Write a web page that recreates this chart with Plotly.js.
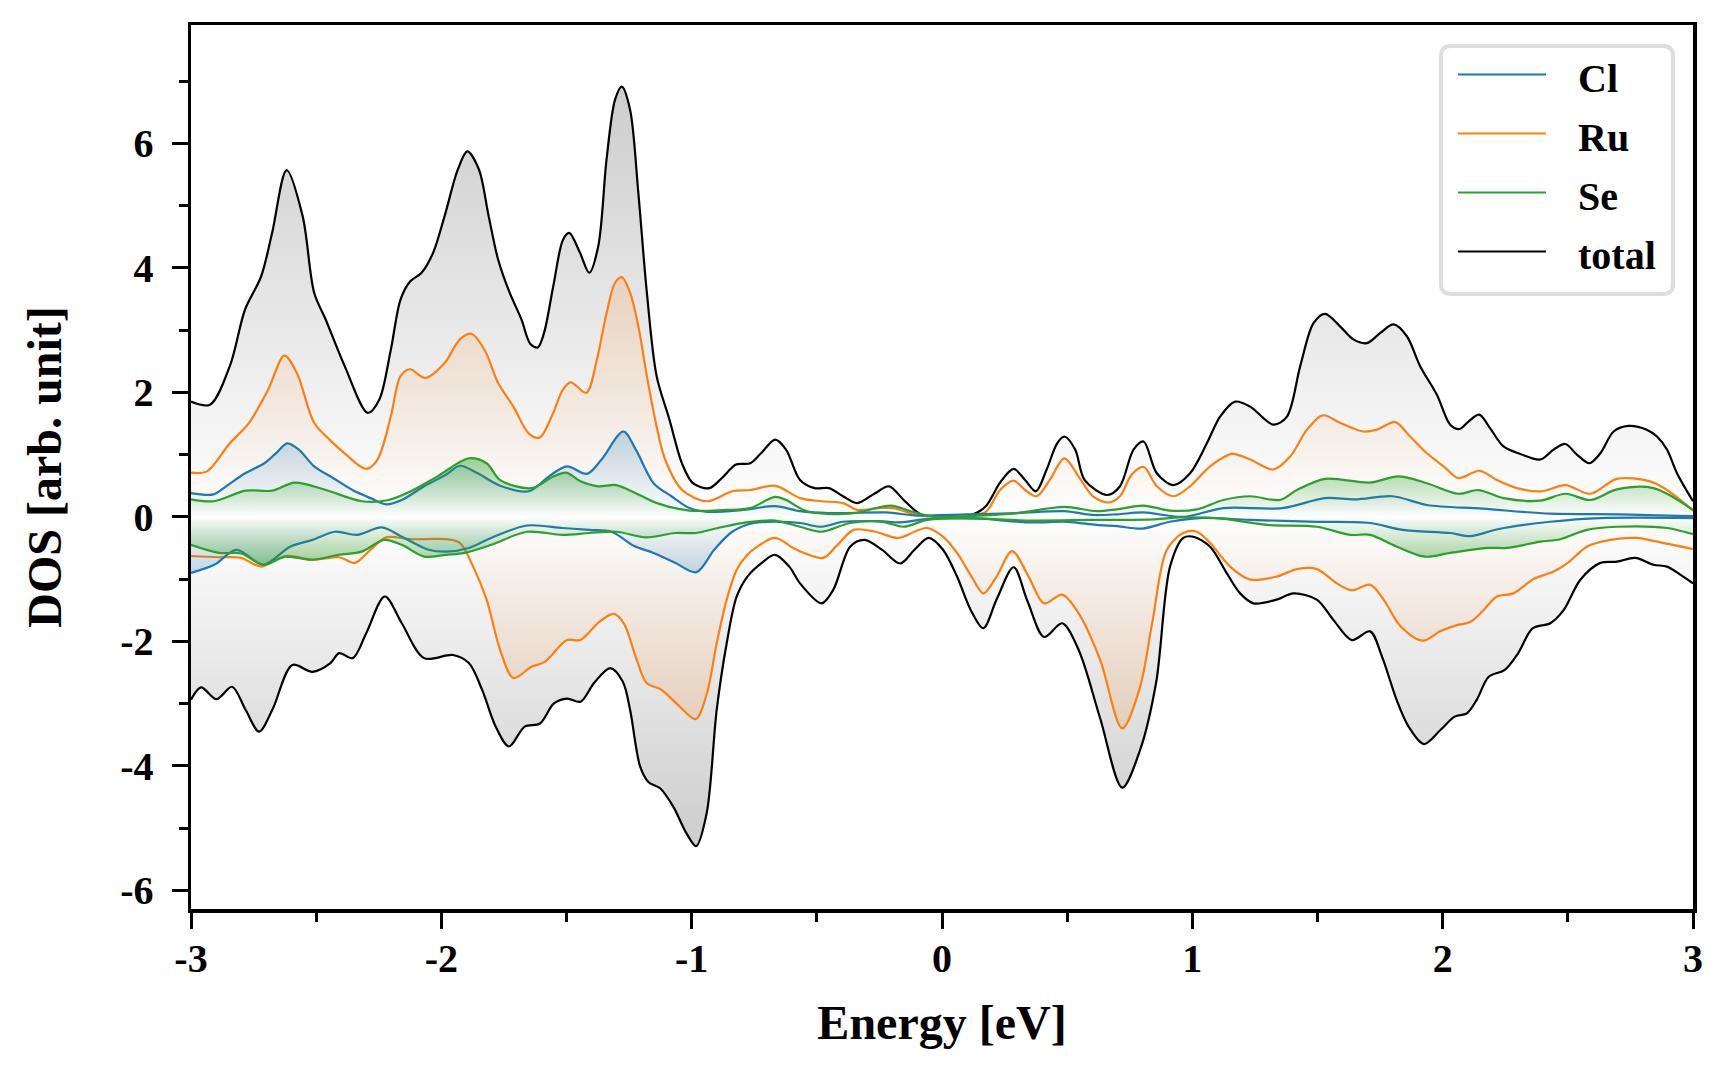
<!DOCTYPE html>
<html><head><meta charset="utf-8">
<script src="https://cdn.plot.ly/plotly-3.0.1.min.js"></script>
<style>html,body{margin:0;padding:0;background:#fff}
.legend .legendfill path{display:none}
.legend .scrollbox{clip-path:none !important}
.legend .legendtext{transform:translate(27px,0)}</style>
</head><body><div id="chart" style="width:1728px;height:1080px"></div>
<script>
// ---------- data (energy in eV, DOS in arb. unit; spin-up positive, spin-down negative) ----------
const xTotalUp = [-3.0,-2.924,-2.845,-2.784,-2.72,-2.676,-2.618,-2.554,-2.508,-2.462,-2.386,-2.294,-2.248,-2.202,-2.163,-2.125,-2.079,-2.033,-1.987,-1.934,-1.896,-1.85,-1.811,-1.773,-1.727,-1.68,-1.645,-1.615,-1.59,-1.553,-1.514,-1.489,-1.446,-1.409,-1.373,-1.34,-1.306,-1.279,-1.246,-1.213,-1.179,-1.14,-1.09,-1.038,-0.995,-0.93,-0.88,-0.823,-0.766,-0.723,-0.666,-0.623,-0.567,-0.509,-0.452,-0.395,-0.339,-0.267,-0.211,-0.153,-0.081,0.0,0.06,0.118,0.175,0.232,0.286,0.332,0.375,0.418,0.46,0.489,0.532,0.57,0.66,0.711,0.765,0.805,0.858,0.925,0.991,1.058,1.111,1.171,1.231,1.324,1.378,1.431,1.484,1.53,1.59,1.643,1.697,1.75,1.804,1.857,1.91,1.977,2.03,2.067,2.103,2.146,2.19,2.243,2.31,2.39,2.443,2.49,2.536,2.586,2.63,2.683,2.742,2.815,2.856,2.896,2.936,3.0];
const dosTotalUp = [1.85,1.80,2.42,3.33,3.86,4.56,5.57,4.83,3.60,3.17,2.42,1.67,1.88,2.68,3.49,3.78,3.92,4.24,4.83,5.58,5.87,5.58,4.83,4.13,3.60,3.17,2.78,2.72,2.95,3.70,4.45,4.56,4.24,3.92,4.35,5.74,6.70,6.91,6.54,5.20,3.60,2.26,1.58,0.85,0.54,0.46,0.62,0.84,0.86,1.02,1.24,1.08,0.59,0.46,0.46,0.33,0.22,0.38,0.49,0.27,0.03,0.02,0.02,0.03,0.17,0.55,0.77,0.59,0.41,0.76,1.18,1.29,1.08,0.59,0.35,0.49,1.08,1.21,0.70,0.51,0.70,1.18,1.61,1.85,1.77,1.48,1.61,2.42,3.11,3.26,3.06,2.85,2.79,2.95,3.09,2.90,2.42,1.96,1.48,1.41,1.53,1.64,1.42,1.13,1.01,0.92,1.08,1.17,1.0,0.86,1.02,1.37,1.46,1.40,1.29,1.08,0.70,0.25];

const xTotalDown = [-3.0,-2.96,-2.898,-2.836,-2.782,-2.728,-2.675,-2.595,-2.515,-2.443,-2.408,-2.354,-2.3,-2.226,-2.158,-2.069,-1.953,-1.89,-1.837,-1.783,-1.73,-1.667,-1.606,-1.551,-1.498,-1.444,-1.39,-1.325,-1.275,-1.246,-1.206,-1.173,-1.126,-1.073,-1.02,-0.982,-0.94,-0.90,-0.86,-0.82,-0.775,-0.72,-0.667,-0.61,-0.567,-0.481,-0.434,-0.367,-0.31,-0.239,-0.167,-0.11,-0.053,0.004,0.06,0.115,0.165,0.218,0.286,0.342,0.408,0.48,0.546,0.632,0.72,0.791,0.855,0.911,0.964,1.004,1.071,1.138,1.191,1.244,1.337,1.404,1.497,1.564,1.637,1.71,1.758,1.816,1.864,1.925,1.992,2.048,2.096,2.136,2.184,2.248,2.30,2.36,2.43,2.483,2.55,2.63,2.696,2.769,2.842,2.896,2.949,3.0];
const dosTotalDown = [-2.94,-2.74,-2.93,-2.73,-3.10,-3.45,-3.10,-2.38,-2.49,-2.35,-2.19,-2.27,-1.87,-1.28,-1.71,-2.27,-2.22,-2.35,-2.78,-3.37,-3.69,-3.37,-3.32,-3.00,-2.92,-2.97,-2.67,-2.43,-2.65,-3.10,-4.01,-4.26,-4.36,-4.66,-5.09,-5.29,-4.76,-3.10,-2.03,-1.28,-0.95,-0.74,-0.61,-0.80,-1.07,-1.39,-1.17,-0.48,-0.37,-0.53,-0.75,-0.53,-0.34,-0.53,-0.96,-1.50,-1.79,-1.33,-0.81,-1.36,-1.93,-1.71,-2.14,-3.24,-4.35,-3.75,-2.67,-0.80,-0.34,-0.32,-0.48,-0.91,-1.23,-1.39,-1.33,-1.23,-1.33,-1.66,-1.98,-1.84,-2.25,-2.94,-3.37,-3.65,-3.42,-3.21,-3.16,-2.94,-2.57,-2.46,-2.20,-1.79,-1.71,-1.50,-1.01,-0.74,-0.72,-0.66,-0.77,-0.80,-0.93,-1.07];

const xRuUp = [-3.0,-2.936,-2.845,-2.768,-2.692,-2.627,-2.577,-2.508,-2.447,-2.386,-2.301,-2.255,-2.202,-2.163,-2.125,-2.064,-1.987,-1.926,-1.88,-1.827,-1.773,-1.712,-1.651,-1.608,-1.555,-1.515,-1.483,-1.421,-1.379,-1.34,-1.306,-1.279,-1.246,-1.213,-1.179,-1.14,-1.106,-1.038,-0.938,-0.838,-0.766,-0.667,-0.567,-0.481,-0.395,-0.339,-0.253,-0.196,-0.125,-0.08,0.1,0.175,0.232,0.286,0.332,0.378,0.432,0.489,0.55,0.603,0.665,0.711,0.758,0.806,0.858,0.925,0.991,1.071,1.158,1.231,1.324,1.391,1.458,1.521,1.59,1.684,1.737,1.81,1.87,1.937,2.004,2.063,2.146,2.217,2.297,2.396,2.49,2.59,2.696,2.829,2.896,3.0];
const dosRuUp = [0.71,0.73,1.18,1.51,2.04,2.59,2.31,1.51,1.24,1.02,0.77,0.92,1.61,2.26,2.37,2.23,2.47,2.85,2.94,2.68,2.15,1.77,1.34,1.27,1.65,2.04,2.16,1.99,2.52,3.27,3.76,3.85,3.60,3.06,2.26,1.45,0.92,0.43,0.25,0.41,0.43,0.50,0.30,0.25,0.22,0.11,0.14,0.14,0.06,0.02,0.02,0.08,0.43,0.58,0.43,0.33,0.60,0.94,0.62,0.33,0.23,0.33,0.68,0.80,0.49,0.33,0.49,0.81,1.01,0.92,0.76,0.97,1.40,1.63,1.51,1.37,1.40,1.52,1.29,1.02,0.81,0.62,0.74,0.59,0.46,0.41,0.51,0.37,0.61,0.57,0.43,0.10];

const xRuDown = [-3.0,-2.889,-2.8,-2.72,-2.622,-2.515,-2.408,-2.345,-2.283,-2.22,-2.122,-1.98,-1.926,-1.873,-1.819,-1.765,-1.712,-1.64,-1.587,-1.498,-1.444,-1.37,-1.311,-1.27,-1.221,-1.18,-1.124,-1.055,-0.984,-0.94,-0.90,-0.86,-0.82,-0.78,-0.738,-0.667,-0.581,-0.474,-0.424,-0.353,-0.267,-0.175,-0.11,-0.06,0.004,0.06,0.118,0.165,0.218,0.28,0.346,0.408,0.48,0.546,0.632,0.72,0.79,0.84,0.898,0.964,1.018,1.071,1.151,1.231,1.337,1.418,1.497,1.577,1.637,1.71,1.764,1.83,1.92,1.99,2.057,2.11,2.163,2.217,2.283,2.363,2.443,2.50,2.576,2.67,2.776,2.856,3.0];
const dosRuDown = [-0.63,-0.65,-0.66,-0.80,-0.63,-0.69,-0.65,-0.74,-0.53,-0.33,-0.36,-0.36,-0.42,-0.80,-1.33,-2.14,-2.59,-2.41,-2.33,-1.98,-1.98,-1.69,-1.56,-1.72,-2.28,-2.67,-2.77,-3.02,-3.25,-2.85,-2.03,-1.33,-0.85,-0.62,-0.48,-0.34,-0.53,-0.66,-0.48,-0.21,-0.24,-0.34,-0.24,-0.18,-0.32,-0.58,-0.96,-1.23,-0.96,-0.55,-0.96,-1.39,-1.25,-1.55,-2.30,-3.40,-2.75,-1.70,-0.53,-0.26,-0.24,-0.42,-0.80,-1.01,-0.96,-0.84,-0.84,-1.07,-1.18,-1.09,-1.33,-1.75,-1.99,-1.84,-1.74,-1.69,-1.50,-1.28,-1.23,-1.00,-0.88,-0.74,-0.48,-0.37,-0.34,-0.40,-0.52];

const xClUp = [-3.0,-2.91,-2.86,-2.784,-2.707,-2.661,-2.615,-2.569,-2.508,-2.431,-2.355,-2.283,-2.22,-2.158,-2.069,-1.98,-1.926,-1.855,-1.765,-1.65,-1.57,-1.498,-1.418,-1.36,-1.273,-1.223,-1.152,-1.081,-1.009,-0.938,-0.795,-0.667,-0.567,-0.452,-0.225,-0.1,0.1,0.3,0.489,0.6,0.70,0.805,0.964,1.124,1.36,1.53,1.65,1.80,1.937,2.16,2.43,2.7,3.0];
const dosClUp = [0.38,0.36,0.49,0.70,0.86,1.02,1.18,1.08,0.81,0.62,0.43,0.30,0.20,0.27,0.49,0.68,0.82,0.70,0.50,0.41,0.65,0.81,0.69,0.92,1.37,1.08,0.54,0.33,0.14,0.08,0.11,0.17,0.09,0.06,0.07,0.02,0.04,0.06,0.09,0.03,0.04,0.07,0.0,0.14,0.14,0.30,0.28,0.33,0.19,0.13,0.05,0.04,0.01];

const xClDown = [-3.0,-2.907,-2.818,-2.711,-2.604,-2.515,-2.425,-2.337,-2.238,-2.158,-2.051,-1.98,-1.89,-1.801,-1.658,-1.516,-1.409,-1.32,-1.23,-1.152,-1.066,-0.981,-0.91,-0.838,-0.752,-0.652,-0.567,-0.481,-0.395,-0.25,-0.167,-0.05,0.15,0.346,0.5,0.618,0.70,0.80,0.91,1.03,1.231,1.497,1.71,1.84,2.03,2.11,2.22,2.43,2.63,3.0];
const dosClDown = [-0.90,-0.77,-0.53,-0.77,-0.48,-0.37,-0.24,-0.29,-0.17,-0.32,-0.53,-0.56,-0.50,-0.34,-0.14,-0.18,-0.21,-0.24,-0.47,-0.58,-0.74,-0.89,-0.53,-0.24,-0.10,-0.08,-0.10,-0.16,-0.08,-0.07,-0.09,-0.03,-0.03,-0.09,-0.08,-0.13,-0.15,-0.19,-0.08,-0.02,-0.05,-0.08,-0.10,-0.21,-0.26,-0.31,-0.20,-0.08,-0.02,-0.02];

const xSeUp = [-3.0,-2.91,-2.782,-2.675,-2.586,-2.461,-2.318,-2.211,-2.122,-2.015,-1.89,-1.819,-1.765,-1.64,-1.551,-1.502,-1.444,-1.373,-1.302,-1.223,-1.138,-1.009,-0.866,-0.766,-0.667,-0.623,-0.539,-0.367,-0.204,-0.125,-0.03,0.15,0.3,0.489,0.618,0.698,0.805,0.911,1.018,1.124,1.231,1.35,1.418,1.53,1.71,1.823,1.937,2.063,2.143,2.243,2.39,2.49,2.59,2.696,2.842,3.0];
const dosSeUp = [0.28,0.25,0.42,0.42,0.55,0.43,0.25,0.27,0.41,0.65,0.94,0.86,0.59,0.46,0.65,0.71,0.57,0.49,0.51,0.38,0.22,0.10,0.11,0.14,0.32,0.27,0.09,0.05,0.18,0.09,0.0,0.02,0.06,0.16,0.09,0.12,0.18,0.10,0.12,0.27,0.33,0.27,0.43,0.61,0.55,0.65,0.54,0.37,0.43,0.30,0.26,0.37,0.27,0.44,0.46,0.11];

const xSeDown = [-3.0,-2.889,-2.8,-2.711,-2.622,-2.515,-2.408,-2.318,-2.229,-2.158,-2.069,-1.98,-1.908,-1.801,-1.658,-1.516,-1.409,-1.302,-1.18,-1.066,-0.981,-0.895,-0.781,-0.667,-0.567,-0.481,-0.367,-0.239,-0.153,-0.06,0.1,0.35,0.6,0.85,0.95,1.098,1.298,1.497,1.63,1.71,1.817,1.93,2.03,2.177,2.257,2.39,2.47,2.576,2.696,2.896,3.0];
const dosSeDown = [-0.45,-0.58,-0.59,-0.77,-0.64,-0.69,-0.61,-0.56,-0.37,-0.45,-0.64,-0.61,-0.58,-0.45,-0.24,-0.29,-0.26,-0.24,-0.33,-0.26,-0.26,-0.18,-0.09,-0.06,-0.16,-0.24,-0.10,-0.08,-0.16,-0.05,-0.02,-0.06,-0.05,-0.04,-0.01,-0.02,-0.13,-0.16,-0.29,-0.29,-0.48,-0.64,-0.58,-0.50,-0.50,-0.40,-0.36,-0.21,-0.16,-0.18,-0.28];

const seriesNames = ['Cl', 'Ru', 'Se', 'total'];
const xTickVals = [-3, -2, -1, 0, 1, 2, 3];
const xTickText = ['-3', '-2', '-1', '0', '1', '2', '3'];
const xMinorVals = [-2.5, -1.5, -0.5, 0.5, 1.5, 2.5];
const yTickVals = [-6, -4, -2, 0, 2, 4, 6];
const yTickText = ['-6', '-4', '-2', '0', '2', '4', '6'];
const yMinorVals = [-5, -3, -1, 1, 3, 5, 7];

// ---------- styling ----------
const FONT = 'Liberation Serif, Times New Roman, serif';
const W = 1728, H = 1080;
const M = {l: 191, r: 35, t: 25, b: 171};
const plotW = W - M.l - M.r, plotH = H - M.t - M.b;

const styles = {
  Cl:    {line: '#1f77b4', rgb: [31, 119, 180], alpha: 0.25, rank: 1},
  Ru:    {line: '#ff7f0e', rgb: [255, 127, 14], alpha: 0.17, rank: 2},
  Se:    {line: '#2ca02c', rgb: [44, 160, 44],  alpha: 0.45, rank: 3},
  total: {line: '#000000', rgb: [128, 128, 128], alpha: 0.40, rank: 4}
};

function rgba(c, a) { return 'rgba(' + c[0] + ',' + c[1] + ',' + c[2] + ',' + a + ')'; }

function curve(name, x, y, up) {
  const s = styles[name];
  const ext = up ? Math.max(...y) : Math.min(...y);
  const c0 = rgba(s.rgb, 0), c1 = rgba(s.rgb, s.alpha);
  return {
    type: 'scatter', mode: 'lines', x: x, y: y, name: name,
    legendgroup: name, showlegend: up, legendrank: s.rank,
    line: {color: s.line, width: 2.2, shape: 'spline', smoothing: 0.9},
    fill: 'tozeroy',
    fillgradient: {
      type: 'vertical',
      start: up ? 0 : ext, stop: up ? ext : 0,
      colorscale: up ? [[0, c0], [1, c1]] : [[0, c1], [1, c0]]
    },
    hoverinfo: 'skip'
  };
}

const traces = [
  curve('total', xTotalUp, dosTotalUp, true),
  curve('total', xTotalDown, dosTotalDown, false),
  curve('Ru', xRuUp, dosRuUp, true),
  curve('Ru', xRuDown, dosRuDown, false),
  curve('Cl', xClUp, dosClUp, true),
  curve('Cl', xClDown, dosClDown, false),
  curve('Se', xSeUp, dosSeUp, true),
  curve('Se', xSeDown, dosSeDown, false)
];

// rounded legend frame (pixel box -> paper coords)
function roundRect(x0, y0, x1, y1, r) {
  const px = v => (v - M.l) / plotW, py = v => (H - M.b - v) / plotH;
  const rx = r / plotW, ry = r / plotH;
  const a = px(x0), b = px(x1), c = py(y0), d = py(y1);
  return 'M' + (a + rx) + ',' + c + ' L' + (b - rx) + ',' + c + ' Q' + b + ',' + c + ' ' + b + ',' + (c - ry) +
    ' L' + b + ',' + (d + ry) + ' Q' + b + ',' + d + ' ' + (b - rx) + ',' + d +
    ' L' + (a + rx) + ',' + d + ' Q' + a + ',' + d + ' ' + a + ',' + (d + ry) +
    ' L' + a + ',' + (c - ry) + ' Q' + a + ',' + c + ' ' + (a + rx) + ',' + c + ' Z';
}

const tickFont = {family: FONT, size: 40, color: '#000', weight: 'bold'};
const titleFont = {family: FONT, size: 48, color: '#000', weight: 'bold'};

const axisCommon = {
  ticks: 'outside', ticklen: 16, tickwidth: 3, tickcolor: '#000',
  showline: true, linewidth: 3.5, linecolor: '#000', mirror: true,
  showgrid: false, zeroline: false, tickfont: tickFont, automargin: false,
  tickmode: 'array'
};

const layout = {
  width: W, height: H,
  margin: M,
  paper_bgcolor: '#fff', plot_bgcolor: '#fff',
  showlegend: true,
  xaxis: Object.assign({}, axisCommon, {
    range: [-3, 3], tickvals: xTickVals, ticktext: xTickText, ticklabelstandoff: -5,
    minor: {tickvals: xMinorVals, ticks: 'outside', ticklen: 9, tickwidth: 3, tickcolor: '#000', showgrid: false},
    title: {text: 'Energy [eV]', font: titleFont, standoff: 27}
  }),
  yaxis: Object.assign({}, axisCommon, {
    range: [-6.3, 7.9], tickvals: yTickVals, ticktext: yTickText, ticklabelstandoff: 10,
    minor: {tickvals: yMinorVals, ticks: 'outside', ticklen: 9, tickwidth: 3, tickcolor: '#000', showgrid: false},
    title: {text: 'DOS [arb. unit]', font: titleFont, standoff: 44}
  }),
  legend: {
    x: (1453 - M.l) / plotW, xanchor: 'left',
    y: (H - M.b - 44) / plotH, yanchor: 'top',
    bgcolor: 'rgba(0,0,0,0)', borderwidth: 0,
    font: {family: FONT, size: 40, color: '#000', weight: 'bold'},
    itemwidth: 88, tracegroupgap: 4, traceorder: 'grouped'
  },
  shapes: [{
    type: 'path', xref: 'paper', yref: 'paper', layer: 'above',
    path: roundRect(1441, 46, 1673, 294, 10),
    line: {color: 'rgb(222,222,222)', width: 4},
    fillcolor: 'rgba(255,255,255,0.8)'
  }]
};

Plotly.newPlot('chart', traces, layout, {displayModeBar: false, staticPlot: true});
</script></body></html>
